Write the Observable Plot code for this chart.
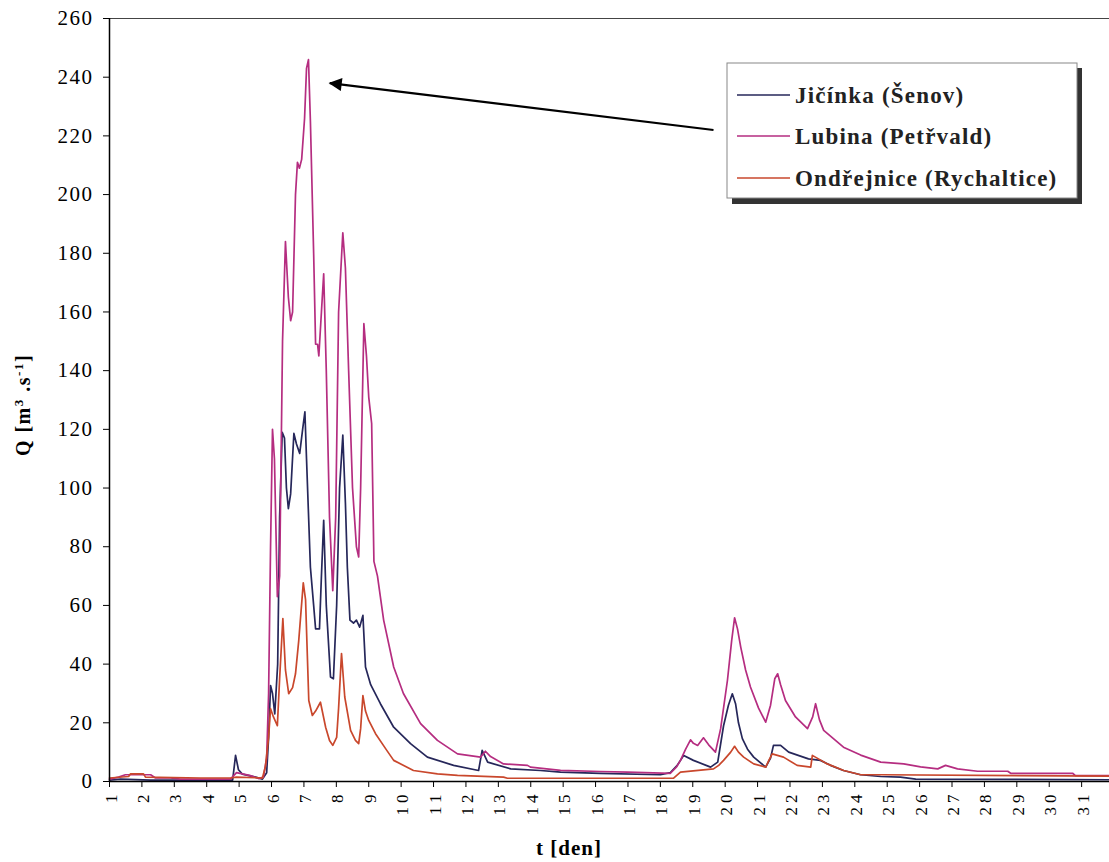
<!DOCTYPE html>
<html><head><meta charset="utf-8">
<script src="https://cdn.jsdelivr.net/npm/d3@7"></script>
<script src="https://cdn.jsdelivr.net/npm/@observablehq/plot@0.6"></script>
<style>body{margin:0;background:#fff} #chart{width:1109px;height:862px;overflow:hidden}</style>
</head><body><div id="chart"></div>
<script>
// ---- data ----
const seriesNames = ["Jičínka (Šenov)", "Lubina (Petřvald)", "Ondřejnice (Rychaltice)"];
const seriesColors = ["#26275a", "#b52d80", "#c9472c"];

const tJicinka = [1.00,1.34,2.27,4.80,4.89,4.98,5.10,5.51,5.72,5.85,5.91,5.97,6.03,6.10,6.19,6.25,6.33,6.40,6.46,6.52,6.59,6.69,6.77,6.87,6.96,7.03,7.08,7.20,7.30,7.36,7.48,7.54,7.61,7.69,7.82,7.91,8.01,8.10,8.20,8.28,8.34,8.42,8.53,8.62,8.72,8.82,8.90,9.06,9.36,9.77,10.29,10.81,11.62,12.39,12.50,12.67,13.38,14.30,14.92,16.15,18.00,18.31,18.52,18.72,19.02,19.55,19.77,19.95,20.10,20.22,20.32,20.41,20.53,20.69,20.88,21.25,21.40,21.49,21.71,21.96,22.57,22.94,23.25,23.65,24.18,24.80,25.41,25.88,31.86];
const qJicinka = [0.5,0.8,0.5,0.5,8.9,4,2.5,1.5,0.8,3,15,32.7,30,23,40,90,119,117,100,93,98,118.6,115,111.8,120,126,110,73,60,52,52,70,89,60,35.6,35,60,100,118,95,73,55,54,55,52.6,56.6,39,33,26.5,18.5,12.9,8.3,5.5,3.75,10.6,6.6,4.3,3.75,3.2,2.8,2.3,3,5.5,8.9,7.2,4.9,6.6,19,26,29.9,26.5,20,14.6,11,8.3,4.9,8,12.3,12.3,10,7.7,7.2,5.5,3.75,2.3,1.7,1.5,0.8,0.6];

const tLubina = [1.00,1.28,1.49,2.27,2.42,2.88,3.19,4.73,4.92,5.35,5.60,5.75,5.85,5.91,5.97,6.03,6.09,6.18,6.25,6.34,6.43,6.52,6.59,6.65,6.74,6.80,6.86,6.93,7.02,7.08,7.14,7.20,7.30,7.36,7.42,7.46,7.54,7.61,7.69,7.79,7.89,7.98,8.07,8.20,8.28,8.38,8.50,8.62,8.69,8.75,8.85,8.93,9.00,9.09,9.16,9.27,9.46,9.77,10.07,10.60,11.12,11.74,12.45,12.60,12.76,13.16,13.90,13.99,14.92,16.15,16.99,18.31,18.50,18.62,18.78,18.93,19.02,19.15,19.33,19.49,19.70,19.86,20.07,20.20,20.29,20.38,20.48,20.63,20.78,21.03,21.25,21.40,21.53,21.62,21.71,21.86,22.17,22.54,22.70,22.79,22.91,23.04,23.65,24.18,24.80,25.51,26.03,26.56,26.80,27.17,27.79,28.72,28.81,30.72,30.81,31.86];
const qLubina = [0.8,1.5,2.3,2.3,1.2,1.2,0.8,0.8,3.0,2.0,1.0,1.5,8,30,80,120,110,63,70,150,184,165,157,160,200,211,209,212,226,243,246,225,180,149,149,145,160,173,140,90,65,90,160,187,175,140,100,80,76.5,100,156,145,131,122,75,70,55,39,30,19.7,14,9.4,8.3,10.3,8.5,6,5.5,4.9,3.8,3.4,3.2,2.8,5,7.2,11,14.2,13,12.3,14.9,12.5,10,18,34.5,48,55.8,52,45.8,38,32.2,25,20.2,26,35,36.7,33,27.6,22,18,22,26.5,21,17.4,11.7,9,6.6,6,5,4.3,5.5,4.3,3.5,3.5,2.8,2.8,2.0,2.0];

const tOndrejnice = [1.00,1.59,1.65,2.05,2.11,3.81,4.73,4.92,5.72,5.81,5.91,5.97,6.06,6.18,6.25,6.35,6.43,6.53,6.65,6.74,6.84,6.98,7.05,7.15,7.26,7.36,7.51,7.67,7.79,7.89,8.01,8.07,8.16,8.26,8.44,8.59,8.69,8.75,8.82,8.90,9.00,9.21,9.52,9.77,10.38,11.12,11.74,13.16,13.28,18.40,18.62,19.64,19.80,19.95,20.17,20.29,20.41,20.57,20.88,21.25,21.34,21.45,21.80,22.22,22.64,22.69,23.15,23.66,24.18,24.80,31.86];
const qOndrejnice = [1.2,1.7,2.6,2.6,1.5,1.2,1.2,1.5,1.2,5,15,24.8,22,19,35,55.5,38,29.9,32,36.7,48,67.7,62,27.6,22.5,24,27,18.5,14,12.3,15,25,43.6,28.8,17.4,14,12.9,18,29.3,24,20.8,16.3,11.2,7.2,3.75,2.6,2.1,1.5,1.1,1.1,3.2,4.3,5.5,7.2,10,12,10,8.3,6,4.9,7,9.4,8.3,5.5,4.9,8.9,6,3.75,2.3,2.3,1.8];

const dayTicks = d3.range(1, 32);
const qTicks = d3.range(0, 261, 20);
// annotation arrow (from legend to Lubina peak), in data units
const arrowFrom = [19.64, 222];
const arrowTo = [7.80, 238];

// ---- build table for Plot ----
const rows = [];
[[tJicinka, qJicinka], [tLubina, qLubina], [tOndrejnice, qOndrejnice]].forEach(([t, q], i) => {
  t.forEach((d, j) => rows.push({series: seriesNames[i], t: d, q: q[j]}));
});

const serif = "'Liberation Serif', 'Times New Roman', serif";
const plot = Plot.plot({
  width: 1109, height: 862,
  marginLeft: 109, marginRight: 0, marginTop: 18, marginBottom: 81,
  style: {fontFamily: serif, fontSize: "17px", background: "#fff", color: "#000"},
  x: {domain: [1, 31.86]},
  y: {domain: [0, 260]},
  color: {domain: seriesNames, range: seriesColors},
  marks: [
    Plot.ruleY([260], {stroke: "#444", strokeWidth: 1}),
    Plot.axisY({ticks: qTicks, tickSize: 6, tickPadding: 10, fontSize: 21, label: null, stroke: "#000", className: "yax"}),
    Plot.axisX({ticks: dayTicks, tickSize: 6, text: null, label: null, stroke: "#000"}),
    Plot.text(dayTicks, {x: d => d, frameAnchor: "bottom", text: d => String(d), rotate: -90,
      textAnchor: "end", dy: 9, fontSize: 17, fill: "#000", className: "xlab"}),
    Plot.line(rows, {x: "t", y: "q", z: "series", stroke: "series", strokeWidth: 1.7}),
    Plot.ruleX([1], {stroke: "#000", strokeWidth: 1.5}),
    Plot.ruleY([0], {stroke: "#000", strokeWidth: 1.5}),
    Plot.link([{x1: arrowFrom[0], y1: arrowFrom[1], x2: arrowTo[0], y2: arrowTo[1]}],
      {x1: "x1", y1: "y1", x2: "x2", y2: "y2", stroke: "#000", strokeWidth: 2.2, className: "ann-arrow"})
  ]
});
document.getElementById("chart").appendChild(plot);

const svg = d3.select(plot);
svg.selectAll(".yax text").attr("letter-spacing", "1.5px");
svg.selectAll(".xlab text").each(function() {
  const tr = this.getAttribute("transform") || "";
  this.setAttribute("transform", "translate(7,0) " + tr);
  this.setAttribute("letter-spacing", "4px");
});
// filled arrowhead
const defs = svg.append("defs");
defs.append("marker").attr("id", "ah").attr("viewBox", "0 0 10 10").attr("refX", 9).attr("refY", 5)
  .attr("markerWidth", 8).attr("markerHeight", 6).attr("markerUnits", "strokeWidth").attr("orient", "auto")
  .append("path").attr("d", "M0,0 L10,5 L0,10 z").attr("fill", "#000");
svg.selectAll(".ann-arrow path").each(function() { this.setAttribute("marker-end", "url(#ah)"); });

// axis titles
svg.append("text").attr("x", 569).attr("y", 855).attr("text-anchor", "middle").attr("letter-spacing", "1px")
  .attr("font-family", serif).attr("font-weight", "bold").attr("font-size", 21).text("t [den]");
const yl = svg.append("text").attr("transform", "translate(30,405) rotate(-90)").attr("text-anchor", "middle")
  .attr("font-family", serif).attr("font-weight", "bold").attr("font-size", 20).attr("letter-spacing", "1.5px");
yl.append("tspan").text("Q [m");
yl.append("tspan").attr("dy", -7).attr("font-size", 13).text("3");
yl.append("tspan").attr("dy", 7).text(" .s");
yl.append("tspan").attr("dy", -7).attr("font-size", 13).text("-1");
yl.append("tspan").attr("dy", 7).text("]");

// legend
const lg = svg.append("g").attr("text-anchor", "start");
lg.append("rect").attr("x", 732).attr("y", 68).attr("width", 350).attr("height", 136).attr("fill", "#333");
lg.append("rect").attr("x", 727).attr("y", 63).attr("width", 350).attr("height", 135).attr("fill", "#fff").attr("stroke", "#888").attr("stroke-width", 1);
const ly = [95, 136, 178];
seriesNames.forEach((n, i) => {
  lg.append("line").attr("x1", 737).attr("x2", 790).attr("y1", ly[i]).attr("y2", ly[i])
    .attr("stroke", seriesColors[i]).attr("stroke-width", 1.6);
  lg.append("text").attr("x", 795).attr("y", ly[i]).attr("dy", "0.35em").attr("text-anchor", "start")
    .attr("letter-spacing", "1.2px")
    .attr("font-family", serif).attr("font-weight", "bold").attr("font-size", 23).attr("fill", "#222").text(n);
});
</script>
</body></html>
